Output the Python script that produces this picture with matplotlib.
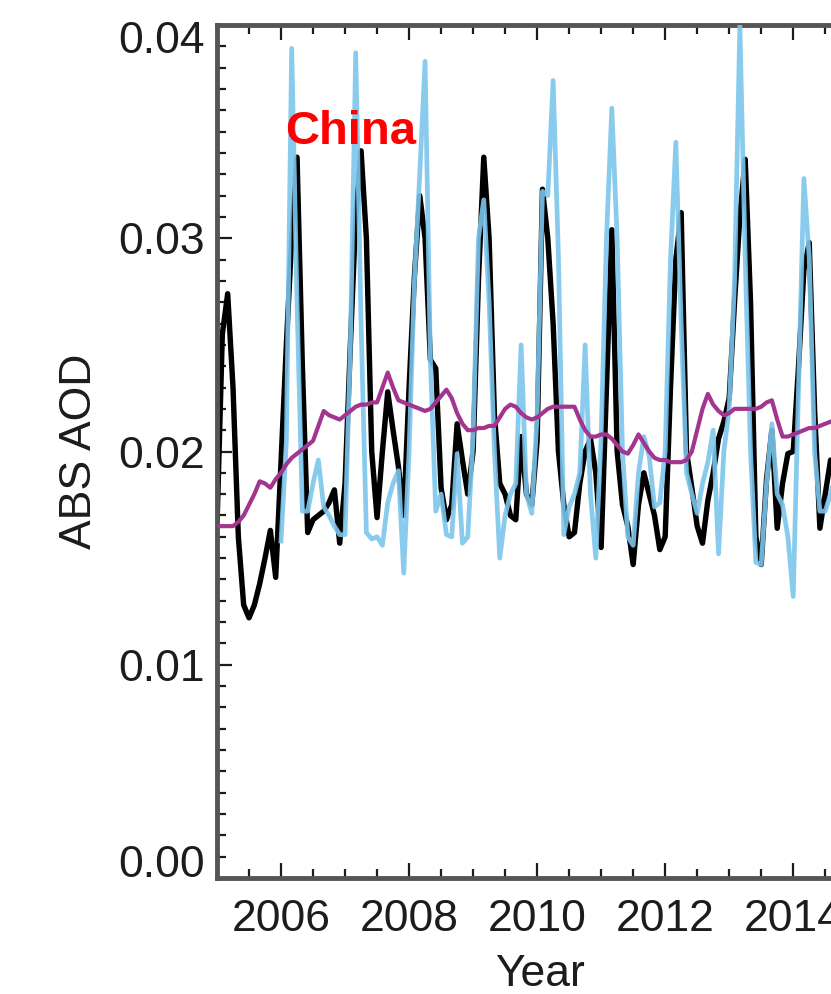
import matplotlib
matplotlib.use("Agg")
import numpy as np
import matplotlib.pyplot as plt
from matplotlib.ticker import MultipleLocator
from matplotlib.transforms import ScaledTranslation

# Monthly absorbing AOD over China, Jan 2005 - Dec 2014
start_year = 2005
n_months = 120

model_monthly = [
    0.0165, 0.0255, 0.0274, 0.0230, 0.0160, 0.0128, 0.0122, 0.0128, 0.0138, 0.0150, 0.0163, 0.0141,  # 2005
    0.0195, 0.0250, 0.0300, 0.0338, 0.0240, 0.0162, 0.0168, 0.0170, 0.0172, 0.0176, 0.0182, 0.0157,  # 2006
    0.0185, 0.0250, 0.0310, 0.0341, 0.0300, 0.0200, 0.0169, 0.0200, 0.0228, 0.0210, 0.0193, 0.0170,  # 2007
    0.0230, 0.0282, 0.0320, 0.0300, 0.0243, 0.0239, 0.0183, 0.0168, 0.0175, 0.0213, 0.0196, 0.0180,  # 2008
    0.0200, 0.0280, 0.0338, 0.0300, 0.0217, 0.0185, 0.0180, 0.0170, 0.0168, 0.0207, 0.0180, 0.0175,  # 2009
    0.0205, 0.0323, 0.0300, 0.0260, 0.0200, 0.0175, 0.0160, 0.0162, 0.0185, 0.0200, 0.0206, 0.0190,  # 2010
    0.0155, 0.0230, 0.0304, 0.0200, 0.0175, 0.0165, 0.0147, 0.0175, 0.0190, 0.0180, 0.0170, 0.0154,  # 2011
    0.0160, 0.0230, 0.0290, 0.0312, 0.0200, 0.0183, 0.0165, 0.0157, 0.0177, 0.0190, 0.0206, 0.0214,  # 2012
    0.0225, 0.0270, 0.0310, 0.0337, 0.0270, 0.0160, 0.0147, 0.0187, 0.0210, 0.0164, 0.0185, 0.0199,  # 2013
    0.0200, 0.0240, 0.0285, 0.0298, 0.0220, 0.0164, 0.0180, 0.0196, 0.0185, 0.0175, 0.0170, 0.0180,  # 2014
]

nan = float("nan")
obs_monthly = [
    nan, nan, nan, nan, nan, nan, nan, nan, nan, nan, nan, nan,  # 2005
    0.0158, 0.0205, 0.0389, 0.0270, 0.0172, 0.0172, 0.0185, 0.0196, 0.0174, 0.0170, 0.0165, 0.0161,  # 2006
    0.0161, 0.0250, 0.0387, 0.0260, 0.0162, 0.0159, 0.0160, 0.0156, 0.0176, 0.0185, 0.0191, 0.0143,  # 2007
    0.0200, 0.0280, 0.0330, 0.0383, 0.0243, 0.0172, 0.0180, 0.0161, 0.0160, 0.0199, 0.0157, 0.0160,  # 2008
    0.0207, 0.0300, 0.0318, 0.0270, 0.0200, 0.0150, 0.0170, 0.0180, 0.0185, 0.0250, 0.0180, 0.0171,  # 2009
    0.0217, 0.0322, 0.0320, 0.0374, 0.0291, 0.0161, 0.0174, 0.0180, 0.0190, 0.0250, 0.0180, 0.0150,  # 2010
    0.0207, 0.0300, 0.0361, 0.0300, 0.0200, 0.0160, 0.0156, 0.0190, 0.0207, 0.0198, 0.0174, 0.0176,  # 2011
    0.0200, 0.0290, 0.0345, 0.0260, 0.0190, 0.0180, 0.0171, 0.0185, 0.0195, 0.0210, 0.0152, 0.0200,  # 2012
    0.0220, 0.0280, 0.0400, 0.0291, 0.0200, 0.0148, 0.0147, 0.0185, 0.0213, 0.0180, 0.0175, 0.0160,  # 2013
    0.0132, 0.0230, 0.0328, 0.0291, 0.0200, 0.0172, 0.0172, 0.0180, 0.0190, 0.0180, 0.0175, 0.0180,  # 2014
]

running_mean = [
    0.0165, 0.0165, 0.0165, 0.0165, 0.0167, 0.0170, 0.0175, 0.0180, 0.0186, 0.0185, 0.0183, 0.0187,  # 2005
    0.0190, 0.0194, 0.0197, 0.0199, 0.0201, 0.0203, 0.0205, 0.0212, 0.0219, 0.0217, 0.0216, 0.0215,  # 2006
    0.0217, 0.0219, 0.0221, 0.0222, 0.0222, 0.0223, 0.0223, 0.0230, 0.0237, 0.0230, 0.0224, 0.0223,  # 2007
    0.0222, 0.0221, 0.0220, 0.0219, 0.0220, 0.0223, 0.0226, 0.0229, 0.0225, 0.0218, 0.0213, 0.0210,  # 2008
    0.0210, 0.0211, 0.0211, 0.0212, 0.0212, 0.0216, 0.0220, 0.0222, 0.0221, 0.0218, 0.0216, 0.0215,  # 2009
    0.0216, 0.0218, 0.0220, 0.0221, 0.0221, 0.0221, 0.0221, 0.0221, 0.0215, 0.0210, 0.0207, 0.0207,  # 2010
    0.0208, 0.0208, 0.0206, 0.0203, 0.0200, 0.0199, 0.0203, 0.0208, 0.0204, 0.0200, 0.0197, 0.0196,  # 2011
    0.0196, 0.0195, 0.0195, 0.0195, 0.0196, 0.0200, 0.0210, 0.0220, 0.0227, 0.0222, 0.0219, 0.0217,  # 2012
    0.0218, 0.0220, 0.0220, 0.0220, 0.0220, 0.0220, 0.0221, 0.0223, 0.0224, 0.0215, 0.0207, 0.0207,  # 2013
    0.0208, 0.0209, 0.0210, 0.0211, 0.0211, 0.0212, 0.0213, 0.0214, 0.0215, 0.0216, 0.0216, 0.0217,  # 2014
]

region_name = "China"
y_ticks = [0.00, 0.01, 0.02, 0.03, 0.04]
x_ticks = [2006, 2008, 2010, 2012, 2014]

time = start_year + np.arange(n_months) / 12.0

plt.rcParams["font.family"] = ["Liberation Sans", "DejaVu Sans"]
text_color = "#1c1c1c"
axis_color = "#555555"
label_size = 32

fig = plt.figure(figsize=(8.31, 9.94), dpi=100)
# the right part of the panel runs past the figure edge
ax = fig.add_axes([217 / 831, 116 / 994, 646 / 831, 853 / 994])

ax.plot(time, model_monthly, color="black", lw=3.9, zorder=2)
ax.plot(time, obs_monthly, color="#7cc6ec", lw=3.4, alpha=0.9, zorder=3)
ax.plot(time, running_mean, color="#a2358f", lw=3.0, zorder=4)

ax.text(2006.06, 0.0344, region_name, color="#ff0000", fontsize=34,
        fontweight="bold", ha="left", va="baseline", zorder=5)

ax.set_xlim(2005, 2015.09)
ax.set_ylim(0, 0.04)
ax.set_xticks(x_ticks)
ax.set_yticks(y_ticks)
ax.xaxis.set_minor_locator(MultipleLocator(0.5))
ax.yaxis.set_minor_locator(MultipleLocator(0.001))
ax.set_xticklabels([str(v) for v in x_ticks])
ax.set_yticklabels([f"{v:.2f}" for v in y_ticks])

ax.tick_params(which="both", direction="in", top=True, right=True,
               color=text_color, width=1.6, labelsize=label_size,
               labelcolor=text_color)
ax.tick_params(which="major", length=11)
ax.tick_params(which="minor", length=6.5)
ax.tick_params(axis="y", pad=9)
ax.tick_params(axis="x", pad=15)

for side in ax.spines:
    ax.spines[side].set_color(axis_color)
    ax.spines[side].set_linewidth(3.5)

# nudge the end labels of the y axis inside the frame
ticks = ax.yaxis.get_major_ticks()
lab_lo, lab_hi = ticks[0].label1, ticks[-1].label1
lab_lo.set_transform(lab_lo.get_transform() + ScaledTranslation(0, 0.17, fig.dpi_scale_trans))
lab_hi.set_transform(lab_hi.get_transform() + ScaledTranslation(0, -0.12, fig.dpi_scale_trans))

ax.set_xlabel("Year", fontsize=label_size, color=text_color)
ax.set_ylabel("ABS AOD", fontsize=label_size, color=text_color)
ax.xaxis.set_label_coords(0.5, -0.089)
ax.yaxis.set_label_coords(-0.181, 0.5)

fig.savefig("out.png", dpi=100)
